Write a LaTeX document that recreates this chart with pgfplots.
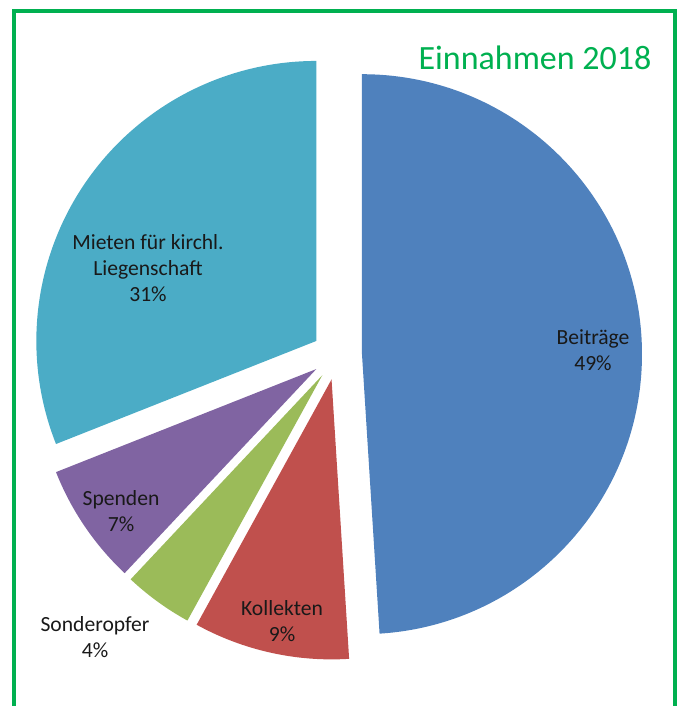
\documentclass[border=0pt]{standalone}
\usepackage{pgfplots}
\usepackage{pgfplotstable}
\pgfplotsset{compat=1.18}
\usepackage{fontspec}
\setmainfont{Carlito}

\definecolor{pieblue}{HTML}{4F81BD}
\definecolor{piered}{HTML}{C0504D}
\definecolor{piegreen}{HTML}{9BBB59}
\definecolor{piepurple}{HTML}{8064A2}
\definecolor{piecyan}{HTML}{4BACC6}
\definecolor{framegreen}{HTML}{00B050}

% Einnahmen 2018 in Prozent, im Uhrzeigersinn ab 12 Uhr
\pgfplotstableread[col sep=comma]{
label,value,color
Beiträge,49,pieblue
Kollekten,9,piered
Sonderopfer,4,piegreen
Spenden,7,piepurple
Mieten,31,piecyan
}\piedata

\tikzset{lbl/.style={font=\fontsize{10.8}{13}\selectfont, text=black!90, align=center}}

\begin{document}
\begin{tikzpicture}
\begin{axis}[
    x=0.5pt, y=0.5pt,
    xmin=0, xmax=681, ymin=0, ymax=706,
    hide axis, scale only axis, clip=true
  ]
  \path (axis cs:0,0) rectangle (axis cs:681,706);
  % Rahmen
  \draw[framegreen, line width=2pt] (axis cs:14,-10) -- (axis cs:14,695) -- (axis cs:675,695) -- (axis cs:675,-10);
  % Segmente (explodiert)
  \pgfplotstablegetrowsof{\piedata}
  \pgfmathtruncatemacro\nrows{\pgfplotsretval-1}
  \def\cum{0}
  \pgfplotsforeachungrouped \i in {0,...,\nrows}{%
    \pgfplotstablegetelem{\i}{value}\of\piedata \let\val\pgfplotsretval
    \pgfplotstablegetelem{\i}{color}\of\piedata \let\col\pgfplotsretval
    \pgfmathsetmacro\sa{90-3.6*\cum}
    \pgfmathsetmacro\ea{90-3.6*(\cum+\val)}
    \pgfmathsetmacro\ma{(\sa+\ea)/2}
    \pgfmathsetmacro\vx{337+25*cos(\ma)}
    \pgfmathsetmacro\vy{351+25*sin(\ma)}
    \pgfmathsetmacro\ox{\vx+280*cos(\sa)}
    \pgfmathsetmacro\oy{\vy+280*sin(\sa)}
    \edef\slice{\noexpand\fill[\col] (axis cs:\vx,\vy) -- (axis cs:\ox,\oy)
      arc[start angle=\sa, end angle=\ea, radius=140pt] -- cycle;}
    \slice
    \pgfmathsetmacro\cum{\cum+\val}
  }
  % Beschriftungen
  \node[lbl] at (axis cs:593,356) {Beiträge\\49\%};
  \node[lbl] at (axis cs:282,85) {Kollekten\\9\%};
  \node[lbl] at (axis cs:95,69) {Sonderopfer\\4\%};
  \node[lbl] at (axis cs:121,195) {Spenden\\7\%};
  \node[lbl] at (axis cs:148,438) {Mieten für kirchl.\\Liegenschaft\\31\%};
  \node[text=framegreen, font=\fontsize{17}{20}\selectfont] at (axis cs:535,648) {Einnahmen 2018};
\end{axis}
\end{tikzpicture}
\end{document}
